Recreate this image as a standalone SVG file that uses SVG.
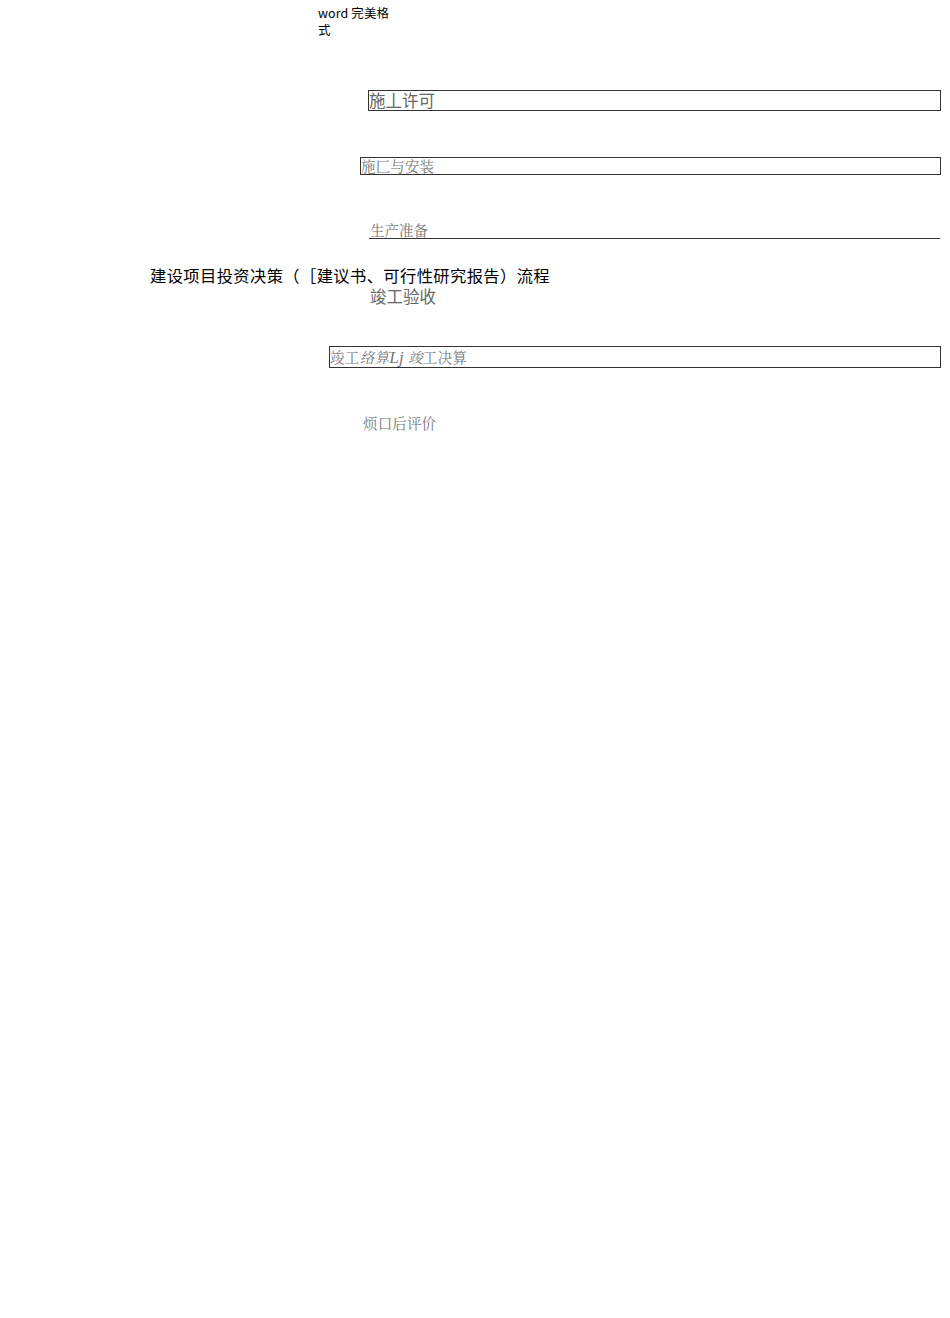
<svg xmlns="http://www.w3.org/2000/svg" width="950" height="1318" viewBox="0 0 950 1318">
<style>
.box{fill:none;stroke:#333;stroke-width:1}
.sans{font-family:"Noto Sans CJK SC","Liberation Sans",sans-serif}
.serif{font-family:"Liberation Serif","Noto Serif CJK SC","Noto Sans CJK SC",serif}
.gray{fill:#777}
</style>
<rect width="950" height="1318" fill="#fff"/>
<g id="header">
<text x="318" y="18" class="sans" font-size="12.5" fill="#000" textLength="71" lengthAdjust="spacing">word 完美格</text>
<text x="318" y="35" class="sans" font-size="12.5" fill="#000">式</text>
</g>
<g id="node-permit">
<rect class="box" x="368.5" y="90.5" width="572" height="20"/>
<text x="369" y="107" class="sans" font-size="16.5" fill="#666" textLength="66" lengthAdjust="spacing">施丄许可</text>
</g>
<g id="node-construction">
<rect class="box" x="360.5" y="157.5" width="580" height="17"/>
<text x="361" y="172" class="serif gray" font-size="14.5" textLength="73" lengthAdjust="spacing">施匚与安装</text>
</g>
<g id="node-prep">
<line x1="369" y1="238.5" x2="940" y2="238.5" stroke="#333" stroke-width="1"/>
<text x="370" y="236" class="serif gray" font-size="14.5" textLength="58" lengthAdjust="spacing">生产准备</text>
</g>
<g id="title">
<text x="150 166.7 183.3 200 216.7 233.3 250 266.7 283.3 300 316.7 333.3 350 366.7 383.3 400 416.7 433.3 450 466.7 483.3 500 516.7 533.3" y="282" class="sans" font-size="16.3" fill="#000">建设项目投资决策（［建议书、可行性研究报告）流程</text>
</g>
<g id="node-acceptance">
<text x="370" y="303" class="sans" font-size="16.5" fill="#666" textLength="66" lengthAdjust="spacing">竣工验收</text>
</g>
<g id="node-settlement">
<rect class="box" x="329.5" y="346.5" width="611" height="21"/>
<text x="330" y="363" class="serif gray" font-size="14.5" textLength="137" lengthAdjust="spacing">竣工<tspan font-style="italic">络算</tspan><tspan font-style="italic" font-size="17">Lj</tspan> <tspan font-style="italic">竣</tspan>工决算</text>
</g>
<g id="node-evaluation">
<text x="363" y="429" class="serif gray" font-size="14.5" textLength="73" lengthAdjust="spacing">烦口后评价</text>
</g>
<g id="connectors"></g>
</svg>
